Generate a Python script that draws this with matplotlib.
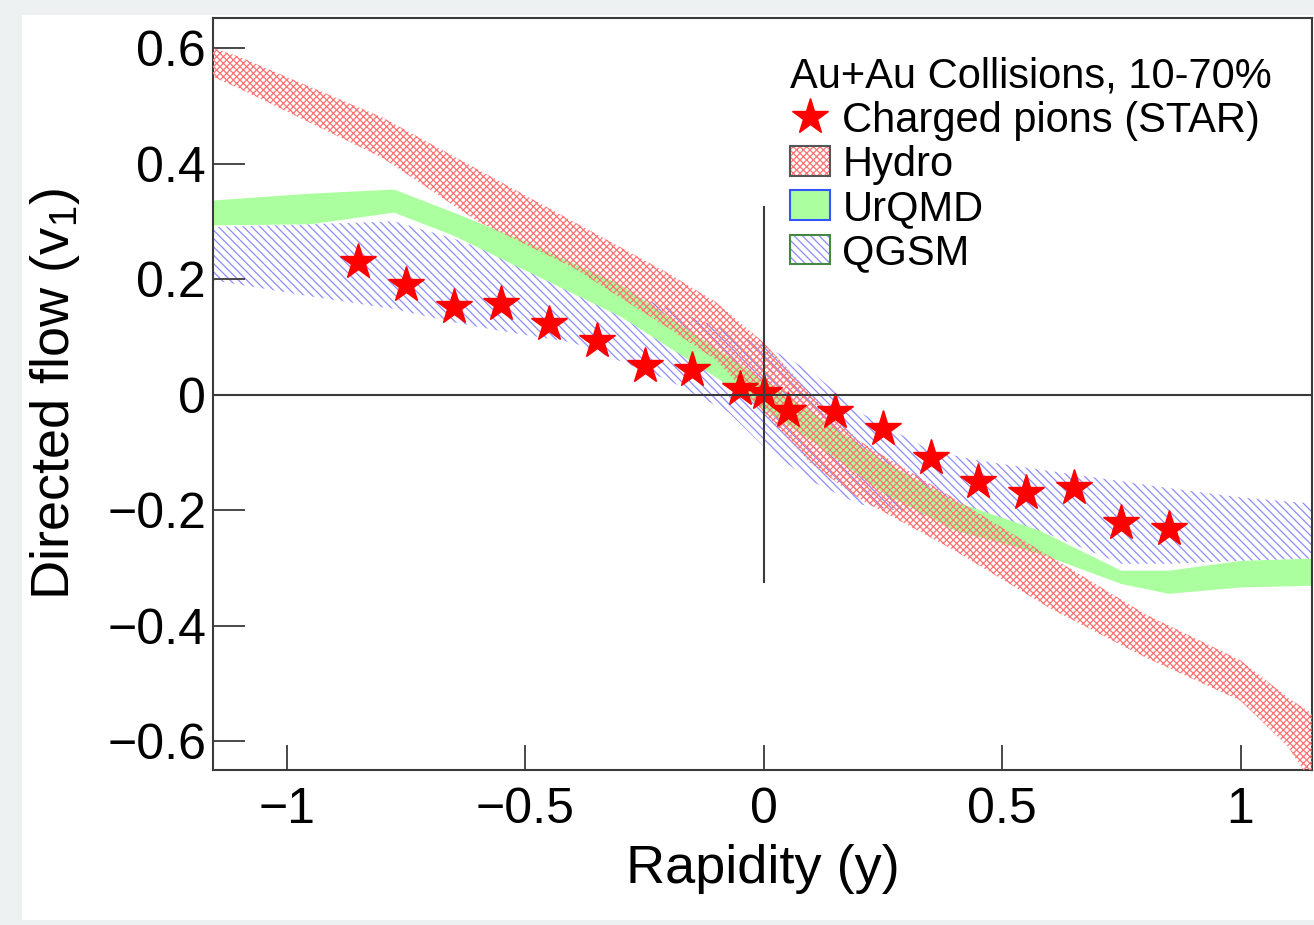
import matplotlib.pyplot as plt
from matplotlib.patches import Patch, Rectangle
from matplotlib.lines import Line2D

plt.rcParams['font.family'] = ['Liberation Sans', 'DejaVu Sans']
plt.rcParams['mathtext.fontset'] = 'custom'
plt.rcParams['mathtext.rm'] = 'Liberation Sans'
plt.rcParams['axes.unicode_minus'] = True
plt.rcParams['hatch.linewidth'] = 0.9

# STAR charged pions
star_y = [-0.85, -0.75, -0.65, -0.55, -0.45, -0.35, -0.25, -0.15, -0.05, 0.0,
          0.05, 0.15, 0.25, 0.35, 0.45, 0.55, 0.65, 0.75, 0.85]
star_v1 = [0.230, 0.189, 0.152, 0.156, 0.123, 0.092, 0.050, 0.042, 0.010, 0.002,
           -0.028, -0.030, -0.059, -0.109, -0.152, -0.170, -0.161, -0.222, -0.232]

# Hydro band
hydro_x = [-1.155, -1.1, -1.0, -0.8, -0.6, -0.4, -0.2, -0.1, 0.0, 0.1, 0.2, 0.4, 0.6,
           0.8, 1.0, 1.1, 1.155]
hydro_hi = [0.60, 0.585, 0.55, 0.48, 0.39, 0.30, 0.21, 0.16, 0.09, 0.0, -0.08, -0.18, -0.28,
            -0.38, -0.46, -0.525, -0.555]
hydro_lo = [0.55, 0.53, 0.49, 0.41, 0.30, 0.22, 0.115, 0.06, -0.03, -0.12, -0.18, -0.27, -0.37,
            -0.455, -0.53, -0.61, -0.68]

# UrQMD band
urqmd_x = [-1.155, -0.95, -0.775, -0.65, -0.5, -0.3, -0.1, 0.1, 0.25, 0.4, 0.58, 0.75, 0.85, 1.0, 1.155]
urqmd_hi = [0.336, 0.348, 0.355, 0.315, 0.265, 0.19, 0.08, -0.03, -0.115, -0.185, -0.236, -0.305, -0.305, -0.288, -0.284]
urqmd_lo = [0.293, 0.295, 0.315, 0.275, 0.215, 0.135, 0.03, -0.08, -0.17, -0.235, -0.276, -0.328, -0.345, -0.334, -0.331]

# QGSM band
qgsm_x = [-1.155, -0.95, -0.775, -0.65, -0.55, -0.4, -0.2, -0.075, 0.0, 0.1, 0.2, 0.35,
          0.45, 0.58, 0.75, 0.85, 1.0, 1.155]
qgsm_hi = [0.29, 0.295, 0.30, 0.27, 0.24, 0.21, 0.15, 0.11, 0.085, 0.04, -0.03, -0.097,
           -0.114, -0.13, -0.15, -0.162, -0.178, -0.189]
qgsm_lo = [0.198, 0.17, 0.148, 0.125, 0.11, 0.09, 0.025, -0.03, -0.09, -0.15, -0.19, -0.21,
           -0.23, -0.236, -0.293, -0.293, -0.288, -0.284]

x_ticks = [-1, -0.5, 0, 0.5, 1]
x_ticklabels = ['\u22121', '\u22120.5', '0', '0.5', '1']
y_ticks = [-0.6, -0.4, -0.2, 0, 0.2, 0.4, 0.6]
y_ticklabels = ['\u22120.6', '\u22120.4', '\u22120.2', '0', '0.2', '0.4', '0.6']

red_hatch = (1.0, 0.45, 0.45)
blue_hatch = (0.55, 0.55, 1.0)
green_fill = (0.67, 1.0, 0.62)
dark = '#3a3a3a'

fig = plt.figure(figsize=(13.14, 9.25), dpi=100, facecolor='#eef1f1')
fig.patches.append(Rectangle((22 / 1314, 5 / 925), 1292 / 1314, 905 / 925,
                             transform=fig.transFigure, facecolor='white',
                             edgecolor='none', zorder=-10))

ax = fig.add_axes([0.1621, 0.1676, 0.8364, 0.8129])
ax.set_facecolor('white')

ax.fill_between(qgsm_x, qgsm_lo, qgsm_hi, facecolor='none', edgecolor=blue_hatch,
                hatch='\\\\\\\\', linewidth=0, zorder=1)
ax.fill_between(urqmd_x, urqmd_lo, urqmd_hi, facecolor=green_fill, edgecolor='none',
                linewidth=0, zorder=2)
ax.fill_between(hydro_x, hydro_lo, hydro_hi, facecolor='none', edgecolor=red_hatch,
                hatch='xxxxx', linewidth=0, zorder=3)

ax.plot(star_y, star_v1, linestyle='none', marker='*', ms=27, color='red', zorder=4)

# reference lines through the origin
ax.axhline(0, color=dark, lw=1.5, zorder=5)
ax.plot([0, 0], [-0.325, 0.325], color=dark, lw=1.5, zorder=5)

ax.set_xlim(-1.155, 1.15)
ax.set_ylim(-0.65, 0.652)
ax.set_xticks(x_ticks)
ax.set_xticklabels(x_ticklabels)
ax.set_yticks(y_ticks)
ax.set_yticklabels(y_ticklabels)
ax.tick_params(direction='in', width=1.3, color=dark, labelsize=36)
ax.tick_params(axis='x', length=18, pad=12)
ax.tick_params(axis='y', length=23, pad=5)
for s in ax.spines.values():
    s.set_color(dark)
    s.set_linewidth(1.5)

ax.set_xlabel('Rapidity (y)', fontsize=39, labelpad=8)
ax.set_ylabel('Directed flow (v$_{1}$)', fontsize=39, labelpad=18)

handles = [
    Line2D([], [], marker='*', linestyle='none', ms=27, color='red'),
    (Patch(facecolor='white', edgecolor=red_hatch, hatch='xxxxx', linewidth=0),
     Patch(facecolor='none', edgecolor='#555555', linewidth=1.5)),
    Patch(facecolor=green_fill, edgecolor='#3355ff', linewidth=1.5),
    (Patch(facecolor='white', edgecolor=blue_hatch, hatch='\\\\\\\\', linewidth=0),
     Patch(facecolor='none', edgecolor='#448844', linewidth=1.5)),
]
labels = ['Charged pions (STAR)', 'Hydro', 'UrQMD', 'QGSM']
leg = ax.legend(handles, labels, title='Au+Au Collisions, 10-70%', title_fontsize=30,
                fontsize=30, loc='upper left', bbox_to_anchor=(0.525, 0.949),
                frameon=False, borderpad=0, borderaxespad=0, handlelength=0.96,
                handleheight=0.72, handletextpad=0.3, labelspacing=0.1,
                alignment='left')
leg.set_zorder(6)

fig.savefig('out.png', dpi=100, facecolor=fig.get_facecolor())
